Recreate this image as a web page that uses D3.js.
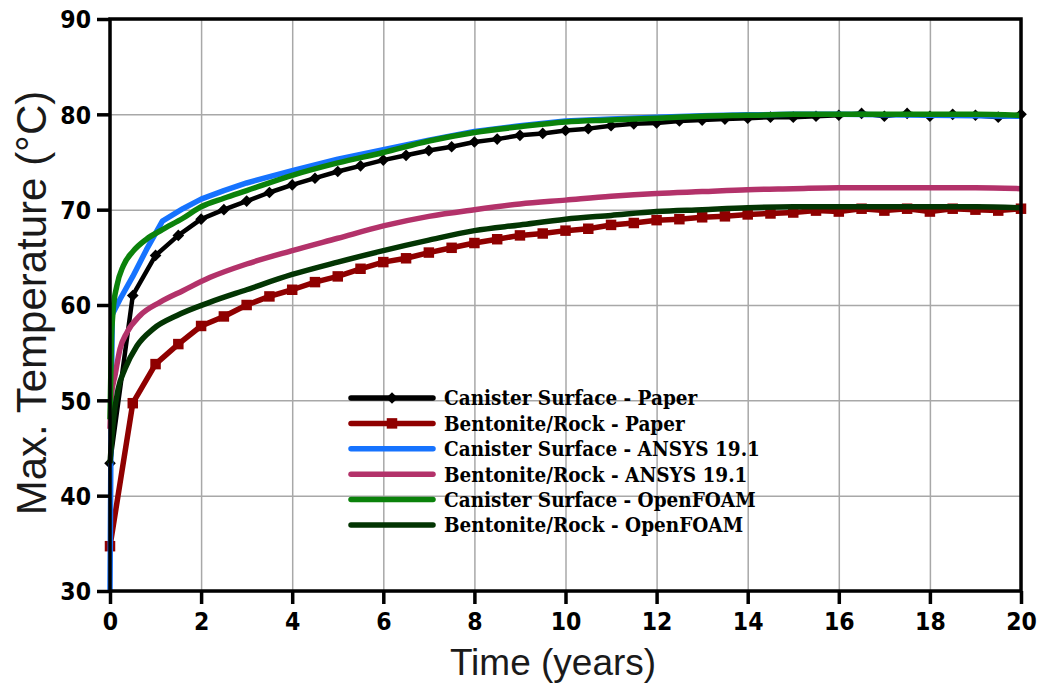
<!DOCTYPE html>
<html>
<head>
<meta charset="utf-8">
<script src="https://cdnjs.cloudflare.com/ajax/libs/d3/7.8.5/d3.min.js"></script>
<style>
body { margin: 0; background: white; }
</style>
</head>
<body>
<svg></svg>
<script>
var WIDTH = 1045,
    HEIGHT = 684,
    MARGIN = {top: 19, left: 110, bottom: 93, right: 24},
    PLOT_W = WIDTH - MARGIN.left - MARGIN.right,
    PLOT_H = HEIGHT - MARGIN.top - MARGIN.bottom,
    TICK_FONT = "'DejaVu Sans', sans-serif",
    LEGEND_FONT = "'DejaVu Serif', serif",
    TITLE_FONT = "'Liberation Sans', Arial, sans-serif",
    GRID_COLOR = "#a8a8a8",
    FRAME_COLOR = "black";

// axis ticks
var xTicks = [0, 2, 4, 6, 8, 10, 12, 14, 16, 18, 20];
var yTicks = [30, 40, 50, 60, 70, 80, 90];

var paperTime = [0, 0.5, 1, 1.5, 2, 2.5, 3, 3.5, 4, 4.5, 5, 5.5, 6, 6.5, 7, 7.5, 8, 8.5, 9, 9.5, 10,
                 10.5, 11, 11.5, 12, 12.5, 13, 13.5, 14, 14.5, 15, 15.5, 16, 16.5, 17, 17.5, 18, 18.5, 19, 19.5, 20];
var canisterPaper = [43.4, 61.0, 65.2, 67.3, 69.0, 70.0, 70.9, 71.8, 72.6, 73.3, 74.0, 74.6, 75.2, 75.7, 76.2, 76.6, 77.1, 77.4, 77.8, 78.0, 78.3,
                     78.5, 78.8, 79.0, 79.1, 79.3, 79.4, 79.5, 79.6, 79.7, 79.7, 79.8, 79.9, 80.1, 79.8, 80.1, 79.8, 80.0, 79.9, 79.7, 80.0];
var rockPaper = [34.7, 49.7, 53.8, 55.9, 57.8, 58.8, 60.0, 60.9, 61.6, 62.4, 63.0, 63.8, 64.5, 64.9, 65.5, 66.0, 66.5, 66.9, 67.3, 67.5, 67.8,
                 68.0, 68.4, 68.6, 68.9, 69.0, 69.2, 69.3, 69.5, 69.6, 69.7, 69.9, 69.8, 70.1, 69.9, 70.1, 69.8, 70.1, 70.0, 69.9, 70.1];

var ansysCanTime = [0, 0.02, 0.05, 0.22, 0.5, 0.8, 1.15, 1.6, 2, 2.5, 3, 4, 5, 6, 7, 8, 9, 10, 11, 12, 13, 14, 15, 16, 17, 18, 19, 20];
var canisterAnsys = [30, 45, 59.0, 60.6, 63.0, 65.8, 68.8, 70.1, 71.1, 72.0, 72.8, 74.1, 75.3, 76.3, 77.3, 78.2, 78.8, 79.3, 79.5, 79.7, 79.85, 79.95, 80.0, 80.0, 79.95, 79.9, 79.85, 79.8];

var ansysRockTime = [0, 0.03, 0.11, 0.22, 0.37, 0.66, 1.1, 1.6, 2.2, 3, 4, 5, 6, 7, 8, 9, 10, 11, 12, 13, 14, 15, 16, 17, 18, 19, 20];
var rockAnsys = [47, 50.5, 52.6, 55.4, 57.1, 58.9, 60.3, 61.5, 62.9, 64.3, 65.7, 67.0, 68.3, 69.3, 70.0, 70.6, 71.0, 71.4, 71.7, 71.9, 72.1, 72.2, 72.3, 72.3, 72.3, 72.3, 72.2];

var foamCanTime = [0, 0.03, 0.07, 0.15, 0.29, 0.5, 0.8, 1.15, 1.6, 2, 2.5, 3, 4, 5, 6, 7, 8, 9, 10, 11, 12, 13, 14, 15, 16, 17, 18, 19, 20];
var canisterFoam = [48, 56, 59.5, 62.0, 64.1, 65.6, 66.9, 67.9, 69.1, 70.3, 71.2, 72.0, 73.6, 74.9, 76.0, 77.2, 78.1, 78.7, 79.2, 79.4, 79.6, 79.8, 79.9, 80.0, 80.0, 80.0, 80.0, 80.0, 79.9];

var foamRockTime = [0, 0.07, 0.18, 0.33, 0.59, 0.95, 1.47, 2.2, 3, 4, 5, 6, 7, 8, 9, 10, 11, 12, 13, 14, 15, 16, 17, 18, 19, 20];
var rockFoam = [43.4, 47.7, 51.2, 53.3, 55.7, 57.5, 58.9, 60.3, 61.6, 63.2, 64.5, 65.7, 66.8, 67.8, 68.4, 69.0, 69.4, 69.8, 70.0, 70.2, 70.3, 70.3, 70.3, 70.3, 70.3, 70.2];

var seriesNames = ["Canister Surface - Paper", "Bentonite/Rock - Paper", "Canister Surface - ANSYS 19.1",
                   "Bentonite/Rock - ANSYS 19.1", "Canister Surface - OpenFOAM", "Bentonite/Rock - OpenFOAM"];

var SERIES = [
    {name: seriesNames[0], t: paperTime, v: canisterPaper, color: "#000000", width: 4.5, marker: "diamond", smooth: false},
    {name: seriesNames[1], t: paperTime, v: rockPaper, color: "#8f0000", width: 5.5, marker: "square", smooth: false},
    {name: seriesNames[2], t: ansysCanTime, v: canisterAnsys, color: "#1673ff", width: 5.5, marker: null, smooth: false},
    {name: seriesNames[3], t: ansysRockTime, v: rockAnsys, color: "#b3326a", width: 5.5, marker: null, smooth: true},
    {name: seriesNames[4], t: foamCanTime, v: canisterFoam, color: "#0b820b", width: 5.5, marker: null, smooth: true},
    {name: seriesNames[5], t: foamRockTime, v: rockFoam, color: "#033503", width: 5.5, marker: null, smooth: true}
];

var x = d3.scaleLinear()
    .domain([0, 20])
    .range([0, PLOT_W]);
var y = d3.scaleLinear()
    .domain([30, 90])
    .range([PLOT_H, 0]);

var diamond = d3.symbol().type(d3.symbolSquare).size(68);
var square = d3.symbol().type(d3.symbolSquare).size(110);

function drawMarker(sel, kind, color) {
    if (kind === "diamond") {
        sel.append("path")
            .attr("d", diamond())
            .attr("transform", function(d) { return "translate(" + d[0] + "," + d[1] + ") rotate(45)"; })
            .style("fill", color);
    } else if (kind === "square") {
        sel.append("path")
            .attr("d", square())
            .attr("transform", function(d) { return "translate(" + d[0] + "," + d[1] + ")"; })
            .style("fill", color);
    }
}

function drawChart() {
    var svg = d3.select("svg")
        .attr("width", WIDTH)
        .attr("height", HEIGHT)
        .style("background", "white");

    var g = svg.append("g")
        .attr("transform", "translate(" + MARGIN.left + "," + MARGIN.top + ")");

    // grid
    g.append("g")
        .attr("class", "grid")
        .attr("transform", "translate(0," + PLOT_H + ")")
        .call(d3.axisBottom(x).tickValues(xTicks).tickSize(-PLOT_H).tickFormat(""))
        .call(function(s) { s.select(".domain").remove(); })
        .selectAll("line")
        .style("stroke", GRID_COLOR)
        .style("stroke-width", 1.5);
    g.append("g")
        .attr("class", "grid")
        .call(d3.axisLeft(y).tickValues(yTicks).tickSize(-PLOT_W).tickFormat(""))
        .call(function(s) { s.select(".domain").remove(); })
        .selectAll("line")
        .style("stroke", GRID_COLOR)
        .style("stroke-width", 1.5);

    // series
    SERIES.forEach(function(s) {
        var pts = s.t.map(function(t, i) { return [x(t), y(s.v[i])]; });
        var line = d3.line()
            .curve(s.smooth ? d3.curveMonotoneX : d3.curveLinear);
        g.append("path")
            .attr("d", line(pts))
            .style("fill", "none")
            .style("stroke", s.color)
            .style("stroke-width", s.width)
            .style("stroke-linejoin", "round");
        if (s.marker) {
            var m = g.append("g").selectAll("g")
                .data(pts)
                .enter().append("g");
            drawMarker(m, s.marker, s.color);
        }
    });

    // frame
    g.append("rect")
        .attr("width", PLOT_W)
        .attr("height", PLOT_H)
        .style("fill", "none")
        .style("stroke", FRAME_COLOR)
        .style("stroke-width", 3.5);

    // axes
    var xAxis = g.append("g")
        .attr("transform", "translate(0," + PLOT_H + ")")
        .call(d3.axisBottom(x).tickValues(xTicks).tickSize(13).tickPadding(9));
    var yAxis = g.append("g")
        .call(d3.axisLeft(y).tickValues(yTicks).tickSize(13).tickPadding(6));
    [xAxis, yAxis].forEach(function(a) {
        a.select(".domain").remove();
        a.selectAll("line")
            .style("stroke", FRAME_COLOR)
            .style("stroke-width", 3.5);
        a.selectAll("text")
            .style("font-family", TICK_FONT)
            .style("font-weight", "bold")
            .style("font-stretch", "condensed")
            .style("font-size", "24.5px")
            .style("fill", "black");
    });
    yAxis.selectAll("text").attr("dy", "0.36em");

    // axis titles
    svg.append("text")
        .attr("x", 553)
        .attr("y", 675)
        .style("font-family", TITLE_FONT)
        .style("font-size", "37px")
        .style("fill", "#1a1a1a")
        .style("text-anchor", "middle")
        .text("Time (years)");
    svg.append("text")
        .attr("transform", "translate(46," + 303 + ") rotate(-90)")
        .style("font-family", TITLE_FONT)
        .style("font-size", "42px")
        .style("fill", "#1a1a1a")
        .style("text-anchor", "middle")
        .text("Max. Temperature (\u00B0C)");

    drawLegend(svg);
}

function drawLegend(svg) {
    var legend = svg.append("g")
        .attr("transform", "translate(351,398)");
    SERIES.forEach(function(s, i) {
        var row = legend.append("g")
            .attr("transform", "translate(0," + (i * 25.4) + ")");
        row.append("line")
            .attr("x1", 0)
            .attr("x2", 82)
            .style("stroke", s.color)
            .style("stroke-width", 5.5)
            .style("stroke-linecap", "round");
        if (s.marker) {
            drawMarker(row.append("g").datum([41, 0]), s.marker, s.color);
        }
        row.append("text")
            .attr("x", 93)
            .attr("dy", "0.36em")
            .style("font-family", LEGEND_FONT)
            .style("font-weight", "bold")
            .style("font-stretch", "condensed")
            .style("font-size", "20.5px")
            .style("fill", "black")
            .text(s.name);
    });
}

drawChart();
</script>
</body>
</html>
